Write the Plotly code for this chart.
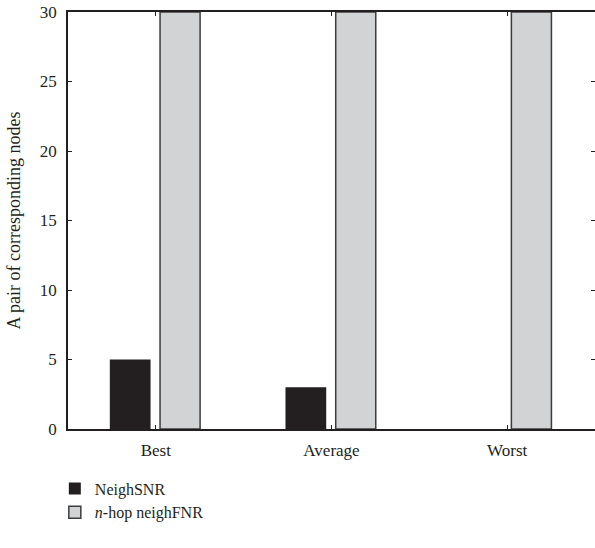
import plotly.graph_objects as go

categories = ["Best", "Average", "Worst"]
neigh_snr = [5, 3, 0]
nhop_neigh_fnr = [30, 30, 30]
y_ticks = [0, 5, 10, 15, 20, 25, 30]

ink = "#231f20"
serif = "Liberation Serif, Times New Roman, serif"

fig = go.Figure()
fig.add_trace(go.Bar(
    x=categories, y=neigh_snr, name="NeighSNR",
    marker=dict(color=ink, line=dict(width=0)),
    width=0.232, offset=-0.262,
))
fig.add_trace(go.Bar(
    x=categories, y=nhop_neigh_fnr, name="<i>n</i>-hop neighFNR",
    marker=dict(color="#d1d3d4", line=dict(color="#3c3c3c", width=1.5)),
    width=0.228, offset=0.024,
))
# invisible helper trace so the right-hand tick axis is rendered
fig.add_trace(go.Scatter(x=categories, y=[None] * 3, yaxis="y2",
                         showlegend=False, hoverinfo="skip"))

fig.update_layout(
    width=595, height=548,
    margin=dict(l=68, r=0, t=12, b=119),
    paper_bgcolor="white", plot_bgcolor="white",
    font=dict(family=serif, size=17, color=ink),
    barmode="overlay",
    xaxis=dict(
        type="category", range=[-0.5, 2.5],
        showline=True, linecolor=ink, linewidth=1.6, mirror="ticks",
        ticks="inside", ticklen=4, tickwidth=1, tickcolor=ink,
        showgrid=False, zeroline=False, ticklabelstandoff=5,
        tickfont=dict(family=serif, size=17, color=ink),
    ),
    yaxis=dict(
        range=[0, 30], tickvals=y_ticks,
        showline=True, linecolor=ink, linewidth=1.6,
        ticks="inside", ticklen=4, tickwidth=1, tickcolor=ink,
        showgrid=False, zeroline=False, ticklabelstandoff=6,
        tickfont=dict(family=serif, size=17, color=ink),
        title=dict(text="A pair of corresponding nodes",
                   font=dict(family=serif, size=18, color=ink), standoff=14),
    ),
    yaxis2=dict(
        overlaying="y", side="right", range=[0, 30], tickvals=y_ticks,
        showline=False, showticklabels=False, showgrid=False, zeroline=False,
        ticks="inside", ticklen=4, tickwidth=1, tickcolor=ink,
    ),
    legend=dict(
        x=-0.025, xanchor="left", y=-0.102, yanchor="top",
        orientation="v", bgcolor="rgba(0,0,0,0)",
        font=dict(family=serif, size=16, color=ink),
        tracegroupgap=0, itemwidth=30,
    ),
    showlegend=True,
)

fig.write_html("out.html")
